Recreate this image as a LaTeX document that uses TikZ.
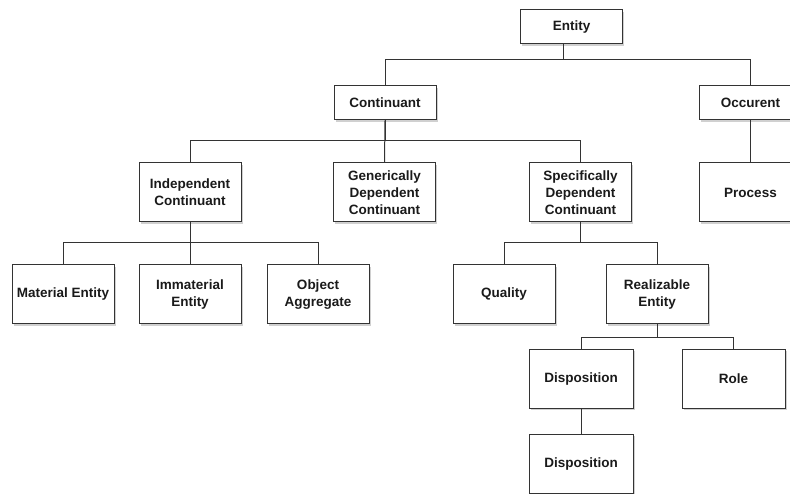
\documentclass[tikz,border=0pt]{standalone}
\usepackage{fontspec}
\setmainfont{Liberation Sans}
\usetikzlibrary{shadows}
\definecolor{edge}{HTML}{333333}
\definecolor{txt}{HTML}{1A1A1A}
\tikzset{
  box/.style={draw=edge, line width=1pt, fill=white, minimum width=102pt, inner sep=0pt,
    align=center, text=txt, font=\bfseries\fontsize{13.5}{17}\selectfont,
    drop shadow={shadow xshift=1.6pt, shadow yshift=-1.6pt, fill=black!30, opacity=0.6}},
  short/.style={box, minimum height=34pt},
  tall/.style={box, minimum height=59pt},
  link/.style={draw=edge, line width=1pt}
}
\begin{document}
\begin{tikzpicture}[x=1pt, y=-1pt]
\clip (0,0) rectangle (790,494);
\fill[white] (0,0) rectangle (790,494);
% level 0
\node[short] (ent) at (571.5,27) {Entity};
% level 1
\node[short] (cont) at (385,103) {Continuant};
\node[short] (occ) at (750.5,103) {Occurent};
% level 2
\node[tall] (ind) at (190,192.5) {Independent\\Continuant};
\node[tall] (gen) at (384.5,192.5) {Generically\\Dependent\\Continuant};
\node[tall] (spec) at (580.5,192.5) {Specifically\\Dependent\\Continuant};
\node[tall] (proc) at (750.5,192.5) {Process};
% level 3
\node[tall] (mat) at (63,294.5) {Material Entity};
\node[tall] (imm) at (190,294.5) {Immaterial\\Entity};
\node[tall] (obj) at (318,294.5) {Object\\Aggregate};
\node[tall] (qual) at (504,294.5) {Quality};
\node[tall] (real) at (657,294.5) {Realizable\\Entity};
% level 4
\node[tall, minimum width=104pt] (disp) at (581,379) {Disposition};
\node[tall, minimum width=103pt] (role) at (733.5,379) {Role};
% level 5
\node[tall, minimum width=104pt] (disp2) at (581,464) {Disposition};
% bus coordinates
\coordinate (b0) at (0,60);
\coordinate (b1) at (0,141);
\coordinate (b2) at (0,243);
\coordinate (b3) at (0,338);
\coordinate (es) at ([xshift=-8.5pt]ent.south);
% connectors
\draw[link] (es) -- (es |- b0) -| (cont.north);
\draw[link] (es) -- (es |- b0) -| (occ.north);
\draw[link] (cont.south) -- (cont.south |- b1) -| (ind.north);
\draw[link] (cont.south) -- (gen.north);
\draw[link] (cont.south) -- (cont.south |- b1) -| (spec.north);
\draw[link] (occ.south) -- (proc.north);
\draw[link] (ind.south) -- (ind.south |- b2) -| (mat.north);
\draw[link] (ind.south) -- (imm.north);
\draw[link] (ind.south) -- (ind.south |- b2) -| (obj.north);
\draw[link] (spec.south) -- (spec.south |- b2) -| (qual.north);
\draw[link] (spec.south) -- (spec.south |- b2) -| (real.north);
\draw[link] (real.south) -- (real.south |- b3) -| (disp.north);
\draw[link] (real.south) -- (real.south |- b3) -| (role.north);
\draw[link] (disp.south) -- (disp2.north);
\end{tikzpicture}
\end{document}
